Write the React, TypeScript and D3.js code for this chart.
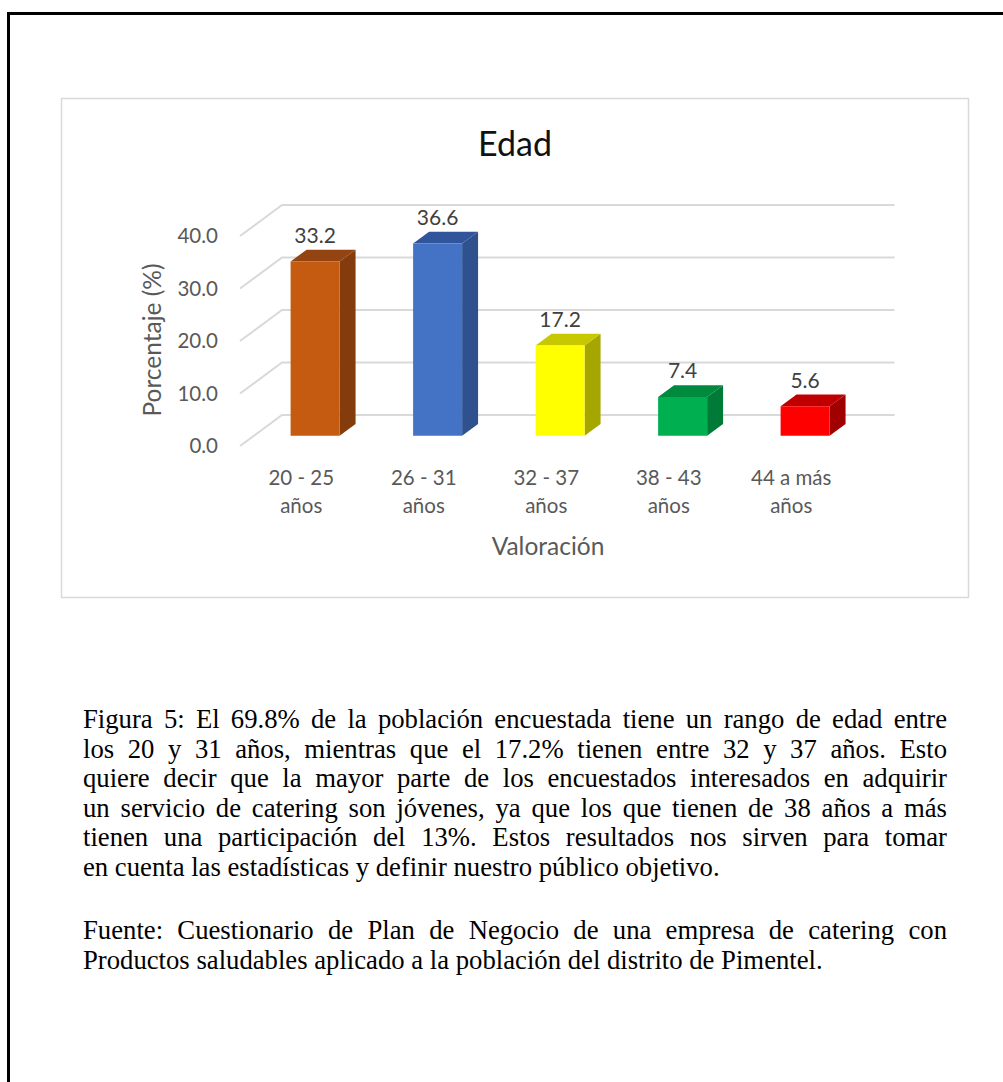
import React, { useLayoutEffect, useRef, useState } from "react";
import * as d3 from "d3";

const categories = ["20 - 25|años", "26 - 31|años", "32 - 37|años", "38 - 43|años", "44 a más|años"];
const values = [33.2, 36.6, 17.2, 7.4, 5.6];
const frontColors = ["#C55A11", "#4472C4", "#FFFF00", "#00B050", "#FF0000"];
const sideColors = ["#843C0C", "#2F528F", "#A6A600", "#007A37", "#A00000"];
const topColors = ["#944410", "#30559A", "#C8C800", "#008A3E", "#C00000"];
const yTicks = [0, 10, 20, 30, 40];

const paragraph1 = [
  "Figura 5: El 69.8% de la población encuestada tiene un rango de edad entre",
  "los 20 y 31 años, mientras que el 17.2% tienen entre 32 y 37 años. Esto",
  "quiere decir que la mayor parte de los encuestados interesados en adquirir",
  "un servicio de catering son jóvenes, ya que los que tienen de 38 años a más",
  "tienen una participación del 13%. Estos resultados nos sirven para tomar",
  "en cuenta las estadísticas y definir nuestro público objetivo.",
];
const paragraph2 = [
  "Fuente: Cuestionario de Plan de Negocio de una empresa de catering con",
  "Productos saludables aplicado a la población del distrito de Pimentel.",
];

const SANS = "Lato, 'Open Sans', sans-serif";
const SERIF = "'Liberation Serif', 'Times New Roman', serif";

// A caption line; when justified, the spaces are widened so the line fills `width`.
function CaptionLine(props: { x: number; y: number; width: number; text: string; justify: boolean }) {
  const { x, y, width, text, justify } = props;
  const ref = useRef<SVGTextElement>(null);
  const [ws, setWs] = useState(0);
  useLayoutEffect(() => {
    if (!justify || !ref.current) return;
    const len = ref.current.getComputedTextLength();
    const spaces = (text.match(/ /g) || []).length;
    if (spaces > 0) setWs((width - len) / spaces);
  }, [text, width, justify]);
  return (
    <text
      ref={ref}
      x={x}
      y={y}
      fontFamily={SERIF}
      fontSize={26.7}
      fill="#000"
      style={{ wordSpacing: `${ws}px`, whiteSpace: "pre" }}
    >
      {text}
    </text>
  );
}

export default function App() {
  // front plane of the 3D plot
  const x = d3
    .scaleBand<string>()
    .domain(categories)
    .range([240, 852.5])
    .paddingInner(0.6)
    .paddingOuter(0.3);
  const y = d3.scaleLinear().domain([0, 40]).range([446, 236]);
  const DX = 42; // full floor depth, horizontal
  const DY = 31; // full floor depth, vertical
  const zFront = 0.33;
  const zBack = 0.71;
  const proj = (px: number, v: number, z: number): [number, number] => [px + z * DX, y(v) - z * DY];

  const [xl, xr] = x.range();

  const textX = 83;
  const textW = 864;
  const lineH = 29.5;

  return (
    <svg
      width={1003}
      height={1082}
      style={{ position: "absolute", left: 0, top: 0, display: "block", background: "#fff" }}
    >
      {/* page frame */}
      <rect x={8.5} y={13.5} width={1010} height={1100} fill="none" stroke="#000" strokeWidth={3} />

      {/* chart area */}
      <rect x={61.5} y={98.5} width={907} height={499} fill="#fff" stroke="#D9D9D9" strokeWidth={1.5} />

      <text x={515} y={156} textAnchor="middle" fontFamily={SANS} fontSize={34} fill="#111">
        Edad
      </text>

      {/* gridlines: floor diagonal + back wall */}
      {yTicks.map((t) => {
        const [ax, ay] = proj(xl, t, 0);
        const [bx, by] = proj(xl, t, 1);
        const [cx, cy] = proj(xr, t, 1);
        return (
          <path
            key={t}
            d={`M${ax},${ay}L${bx},${by}L${cx},${cy}`}
            fill="none"
            stroke="#D9D9D9"
            strokeWidth={2}
          />
        );
      })}

      {/* y tick labels */}
      {yTicks.map((t) => (
        <text
          key={t}
          x={218}
          y={y(t) + 7}
          textAnchor="end"
          fontFamily={SANS}
          fontSize={20.5}
          fill="#595959"
        >
          {t.toFixed(1)}
        </text>
      ))}

      <text
        transform="translate(161,340) rotate(-90)"
        textAnchor="middle"
        fontFamily={SANS}
        fontSize={24.5}
        fill="#595959"
      >
        Porcentaje (%)
      </text>

      {/* 3D bars */}
      {categories.map((c, i) => {
        const x0 = x(c)!;
        const x1 = x0 + x.bandwidth();
        const v = values[i];
        const f00 = proj(x0, 0, zFront);
        const f10 = proj(x1, 0, zFront);
        const f1v = proj(x1, v, zFront);
        const f0v = proj(x0, v, zFront);
        const b10 = proj(x1, 0, zBack);
        const b1v = proj(x1, v, zBack);
        const b0v = proj(x0, v, zBack);
        const pts = (a: [number, number][]) => a.map((p) => p.join(",")).join(" ");
        const [lx, ly] = proj((x0 + x1) / 2, v, zBack);
        return (
          <g key={c}>
            <polygon points={pts([f10, b10, b1v, f1v])} fill={sideColors[i]} />
            <polygon points={pts([f0v, f1v, b1v, b0v])} fill={topColors[i]} />
            <polygon points={pts([f00, f10, f1v, f0v])} fill={frontColors[i]} />
            <text
              x={lx - (zBack - zFront) * DX}
              y={ly - 7}
              textAnchor="middle"
              fontFamily={SANS}
              fontSize={21}
              fill="#404040"
            >
              {v.toFixed(1)}
            </text>
          </g>
        );
      })}

      {/* category labels */}
      {categories.map((c) => {
        const cx = x(c)! + x.bandwidth() / 2;
        const [l1, l2] = c.split("|");
        return (
          <text key={c} textAnchor="middle" fontFamily={SANS} fontSize={20.5} fill="#595959">
            <tspan x={cx} y={484.5}>
              {l1}
            </tspan>
            <tspan x={cx} y={512.5}>
              {l2}
            </tspan>
          </text>
        );
      })}

      <text x={548} y={555} textAnchor="middle" fontFamily={SANS} fontSize={24.5} fill="#595959">
        Valoración
      </text>

      {/* caption */}
      {paragraph1.map((line, i) => (
        <CaptionLine
          key={"p1" + i}
          x={textX}
          y={728 + i * lineH}
          width={textW}
          text={line}
          justify={i < paragraph1.length - 1}
        />
      ))}
      {paragraph2.map((line, i) => (
        <CaptionLine
          key={"p2" + i}
          x={textX}
          y={939 + i * lineH}
          width={textW}
          text={line}
          justify={i < paragraph2.length - 1}
        />
      ))}
    </svg>
  );
}
